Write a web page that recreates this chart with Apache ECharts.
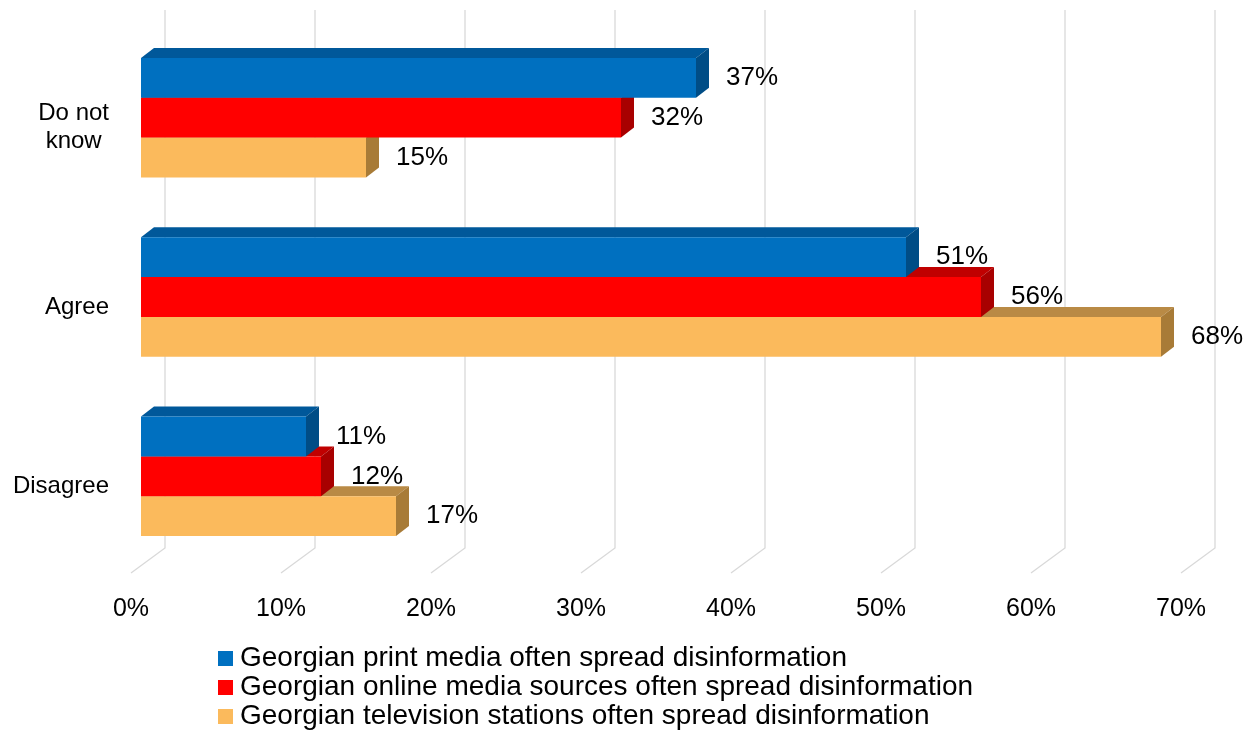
<!DOCTYPE html>
<html>
<head>
<meta charset="utf-8">
<script src="https://cdn.jsdelivr.net/npm/echarts@6/dist/echarts.min.js"></script>
<style>
  html, body { margin: 0; padding: 0; background: #fff; }
  #chart { width: 1254px; height: 731px; }
</style>
</head>
<body>
<div id="chart"></div>
<script>
// Survey answers, top to bottom
const categories = ['Do not know', 'Agree', 'Disagree'];
const seriesNames = [
  'Georgian print media often spread disinformation',
  'Georgian online media sources often spread disinformation',
  'Georgian television stations often spread disinformation'
];
const printMedia = [37, 51, 11];
const onlineMedia = [32, 56, 12];
const televisionStations = [15, 68, 17];
const xTicks = [0, 10, 20, 30, 40, 50, 60, 70];

const FONT = '"Liberation Sans", Arial, sans-serif';

// face colours: front, top, side
const palettes = [
  { front: '#0070C0', top: '#00589A', side: '#004D86' },
  { front: '#FF0000', top: '#C00000', side: '#A80000' },
  { front: '#FBBA5C', top: '#B98A45', side: '#A87B37' }
];

// pseudo-3D geometry (pixels)
const BACK_DX = 34, BACK_DY = -25;   // floor front edge -> back wall
const FRONT_DX = 10, FRONT_DY = -7;  // floor front edge -> bar front plane
const DEPTH_DX = 13, DEPTH_DY = -10; // bar thickness
const GROUP_RATIO = 0.666;
const LABEL_GAP = 17;

function barRenderer(s) {
  const pal = palettes[s];
  return function (params, api) {
    const cat = api.value(0);
    const v = api.value(1);
    const end = api.coord([v, cat]);
    const start = api.coord([0, cat]);
    const band = api.size([0, 1])[1];
    const groupH = band * GROUP_RATIO;
    const barH = groupH / 3;
    const top = end[1] - groupH / 2 + s * barH + FRONT_DY;
    const x0 = start[0] + FRONT_DX;
    const x1 = end[0] + FRONT_DX;
    const bottom = top + barH;
    return {
      type: 'group',
      children: [
        {
          type: 'polygon',
          shape: { points: [[x0, top], [x0 + DEPTH_DX, top + DEPTH_DY], [x1 + DEPTH_DX, top + DEPTH_DY], [x1, top]] },
          style: { fill: pal.top }
        },
        {
          type: 'polygon',
          shape: { points: [[x1, top], [x1 + DEPTH_DX, top + DEPTH_DY], [x1 + DEPTH_DX, bottom + DEPTH_DY], [x1, bottom]] },
          style: { fill: pal.side }
        },
        {
          type: 'rect',
          shape: { x: x0, y: top, width: x1 - x0, height: barH },
          style: { fill: pal.front }
        },
        {
          type: 'text',
          x: x1 + DEPTH_DX + LABEL_GAP,
          y: top + barH / 2,
          style: {
            text: v + '%',
            fill: '#000',
            font: '26px ' + FONT,
            verticalAlign: 'middle',
            align: 'left'
          }
        }
      ]
    };
  };
}

function gridRenderer(params, api) {
  const x = api.coord([api.value(0), 0])[0];
  const cs = params.coordSys;
  const yb = cs.y + cs.height;
  return {
    type: 'polyline',
    shape: { points: [[x, yb], [x + BACK_DX, yb + BACK_DY], [x + BACK_DX, cs.y + BACK_DY]] },
    style: { stroke: '#D9D9D9', lineWidth: 1.3, fill: null }
  };
}

const seriesValues = [printMedia, onlineMedia, televisionStations];

const chart = echarts.init(document.getElementById('chart'));
chart.setOption({
  animation: false,
  backgroundColor: '#fff',
  textStyle: { fontFamily: FONT },
  grid: { left: 131, right: 73, top: 35, bottom: 158, containLabel: false },
  xAxis: {
    type: 'value',
    min: 0, max: 70, interval: 10,
    axisLine: { show: false },
    axisTick: { show: false },
    splitLine: { show: false },
    axisLabel: { formatter: '{value}%', fontSize: 25, color: '#000', margin: 24, fontFamily: FONT }
  },
  yAxis: {
    type: 'category',
    data: categories,
    inverse: true,
    axisLine: { show: false },
    axisTick: { show: false },
    splitLine: { show: false },
    axisLabel: {
      fontSize: 24, color: '#000', margin: 22, fontFamily: FONT,
      padding: [6, 0, 0, 0],
      formatter: function (name) {
        return name === 'Do not know' ? '{c|Do not}\n{c|know}' : name;
      },
      rich: { c: { fontSize: 24, lineHeight: 28, align: 'center', color: '#000', fontFamily: FONT } }
    }
  },
  legend: {
    data: seriesNames,
    orient: 'vertical',
    left: 218,
    top: 644,
    height: 100,
    padding: 0,
    itemGap: 0,
    itemWidth: 15,
    itemHeight: 15,
    icon: 'rect',
    textStyle: { fontSize: 28, lineHeight: 29, color: '#000', fontFamily: FONT, padding: [0, 0, 0, 2] }
  },
  series: [
    {
      name: 'grid',
      type: 'custom',
      silent: true,
      z: 1,
      encode: { x: 0 },
      data: xTicks.map(t => [t, 0]),
      renderItem: gridRenderer
    }
  ].concat(seriesValues.map((vals, s) => ({
    name: seriesNames[s],
    type: 'custom',
    z: 4 - s,
    itemStyle: { color: palettes[s].front },
    encode: { x: 1, y: 0 },
    data: vals.map((v, i) => [i, v]),
    renderItem: barRenderer(s)
  })))
});
</script>
</body>
</html>
